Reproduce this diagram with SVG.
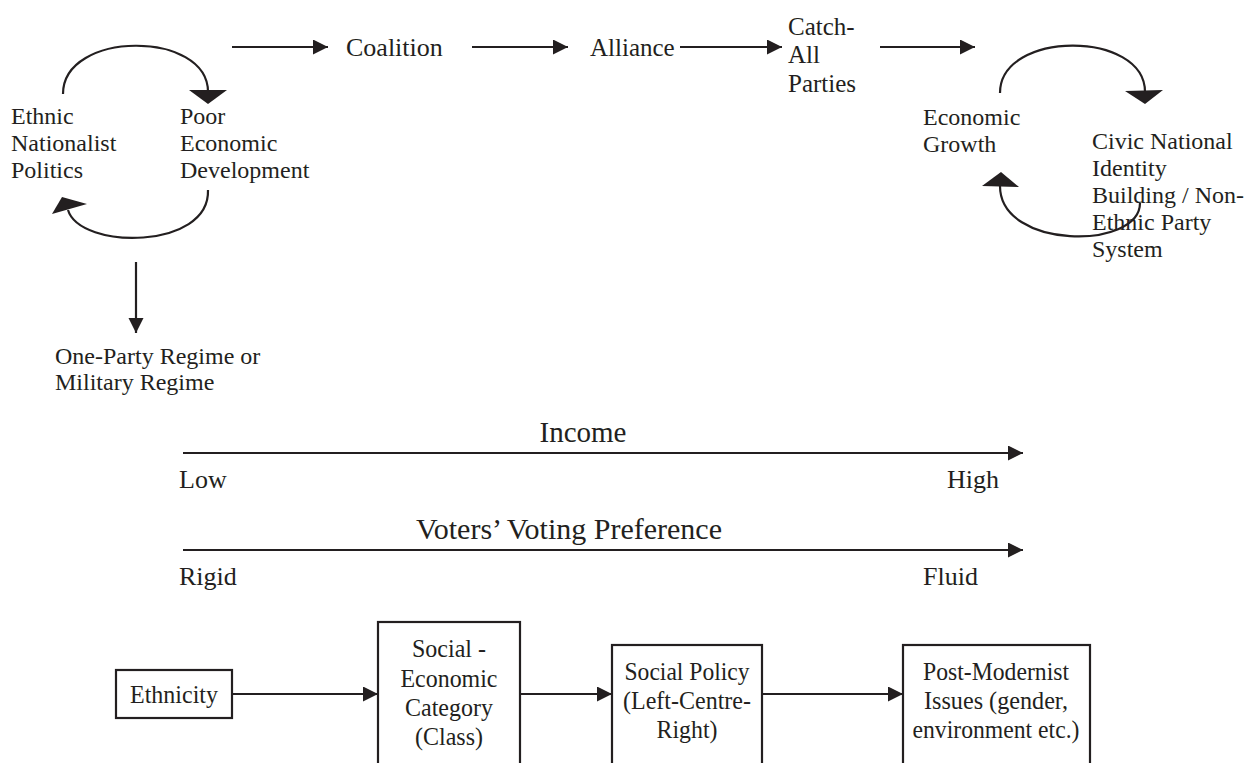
<svg xmlns="http://www.w3.org/2000/svg" width="1250" height="763" viewBox="0 0 1250 763">
<defs>
<style>
text{font-family:"Liberation Serif","Times New Roman",serif;fill:#231f20}
.s24{font-size:24px}
.s25{font-size:25px}
.s26{font-size:26px}
.s29{font-size:29px}
.s30{font-size:30px}
.c{text-anchor:middle}
.ln{stroke:#231f20;stroke-width:2.2;fill:none}
.hd{fill:#231f20}
.bx{fill:#fff;stroke:#231f20;stroke-width:2.2}
</style>
<marker id="ah" markerUnits="userSpaceOnUse" markerWidth="16" markerHeight="16" refX="15" refY="7.5" orient="auto">
<path d="M0,0 L15,7.5 L0,15 z" fill="#231f20"/>
</marker>
</defs>
<rect width="1250" height="763" fill="#fff"/>

<g id="connectors">
<path class="ln" d="M63,94 C63,30 208,30 208,92"/>
<polygon class="hd" points="189,90 227,90 208,104"/>
<path class="ln" d="M208,190 C210,250 80,250 68,210"/>
<polygon class="hd" points="52,214 62,197 87,204"/>
<path class="ln" d="M1000,93 C1000,30 1145,30 1145,92"/>
<polygon class="hd" points="1125,91 1163,90 1145,104"/>
<path class="ln" d="M1000,186 C1000,250 1140,250 1140,203"/>
<polygon class="hd" points="982,186 1019,187 1001,172"/>
<line class="ln" x1="232" y1="47" x2="328" y2="47" marker-end="url(#ah)"/>
<line class="ln" x1="472" y1="47" x2="568" y2="47" marker-end="url(#ah)"/>
<line class="ln" x1="680" y1="47" x2="782" y2="47" marker-end="url(#ah)"/>
<line class="ln" x1="880" y1="47" x2="975" y2="47" marker-end="url(#ah)"/>
<line class="ln" x1="136" y1="262" x2="136" y2="333" marker-end="url(#ah)"/>
<line class="ln" x1="183" y1="453" x2="1023" y2="453" marker-end="url(#ah)"/>
<line class="ln" x1="183" y1="550" x2="1023" y2="550" marker-end="url(#ah)"/>
<line class="ln" x1="232" y1="694" x2="378" y2="694" marker-end="url(#ah)"/>
<line class="ln" x1="520" y1="694" x2="612" y2="694" marker-end="url(#ah)"/>
<line class="ln" x1="762" y1="694" x2="903" y2="694" marker-end="url(#ah)"/>
</g>

<g id="ethnic-nationalist">
<text class="s24" x="11" y="124">Ethnic</text>
<text class="s24" x="11" y="151">Nationalist</text>
<text class="s24" x="11" y="178">Politics</text>
</g>
<g id="poor-economic">
<text class="s24" x="180" y="124">Poor</text>
<text class="s24" x="180" y="151">Economic</text>
<text class="s24" x="180" y="178">Development</text>
</g>
<g id="regime">
<text class="s24" x="55" y="364">One-Party Regime or</text>
<text class="s24" x="55" y="390">Military Regime</text>
</g>
<g id="coalition"><text class="s26" x="346" y="56">Coalition</text></g>
<g id="alliance"><text class="s25" x="590" y="56">Alliance</text></g>
<g id="catch-all">
<text class="s25" x="788" y="35">Catch-</text>
<text class="s25" x="788" y="63">All</text>
<text class="s25" x="788" y="92">Parties</text>
</g>
<g id="economic-growth">
<text class="s24" x="923" y="125">Economic</text>
<text class="s24" x="923" y="152">Growth</text>
</g>
<g id="civic-national">
<text class="s24" x="1092" y="149">Civic National</text>
<text class="s24" x="1092" y="176">Identity</text>
<text class="s24" x="1092" y="203">Building / Non-</text>
<text class="s24" x="1092" y="230">Ethnic Party</text>
<text class="s24" x="1092" y="257">System</text>
</g>

<g id="income-axis">
<text class="s29 c" x="583" y="442">Income</text>
<text class="s26" x="179" y="488">Low</text>
<text class="s26" x="947" y="488">High</text>
</g>
<g id="voting-axis">
<text class="s30 c" x="569" y="539">Voters’ Voting Preference</text>
<text class="s26" x="179" y="585">Rigid</text>
<text class="s26" x="923" y="585">Fluid</text>
</g>

<g id="ethnicity">
<rect class="bx" x="116" y="670" width="116" height="48"/>
<text class="s26 c" x="174" y="703" textLength="88" lengthAdjust="spacingAndGlyphs">Ethnicity</text>
</g>
<g id="socio-economic">
<rect class="bx" x="378" y="622" width="142" height="160"/>
<text class="s26 c" x="449" y="657" textLength="74" lengthAdjust="spacingAndGlyphs">Social -</text>
<text class="s26 c" x="449" y="687" textLength="97" lengthAdjust="spacingAndGlyphs">Economic</text>
<text class="s26 c" x="449" y="716" textLength="88" lengthAdjust="spacingAndGlyphs">Category</text>
<text class="s26 c" x="449" y="745" textLength="68" lengthAdjust="spacingAndGlyphs">(Class)</text>
</g>
<g id="social-policy">
<rect class="bx" x="612" y="645" width="150" height="140"/>
<text class="s26 c" x="687" y="680" textLength="125" lengthAdjust="spacingAndGlyphs">Social Policy</text>
<text class="s26 c" x="687" y="709" textLength="128" lengthAdjust="spacingAndGlyphs">(Left-Centre-</text>
<text class="s26 c" x="687" y="738" textLength="61" lengthAdjust="spacingAndGlyphs">Right)</text>
</g>
<g id="post-modernist">
<rect class="bx" x="903" y="645" width="187" height="140"/>
<text class="s26 c" x="996" y="680" textLength="146" lengthAdjust="spacingAndGlyphs">Post-Modernist</text>
<text class="s26 c" x="996" y="709" textLength="144" lengthAdjust="spacingAndGlyphs">Issues (gender,</text>
<text class="s26 c" x="996" y="738" textLength="167" lengthAdjust="spacingAndGlyphs">environment etc.)</text>
</g>
</svg>
